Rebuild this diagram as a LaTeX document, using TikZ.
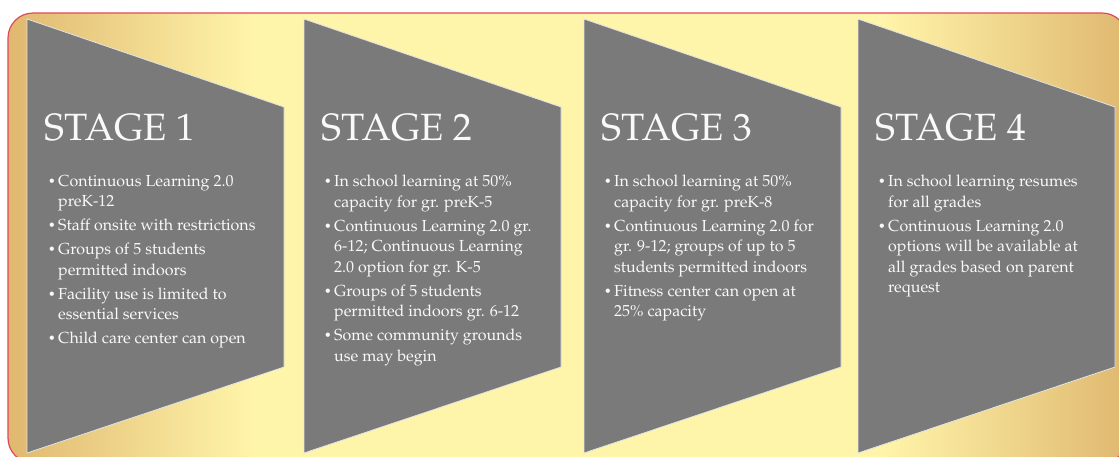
\documentclass[tikz,border=0pt]{standalone}
\usepackage[T1]{fontenc}
\renewcommand{\rmdefault}{ppl}
\definecolor{framered}{RGB}{224,72,90}
\definecolor{stagegray}{RGB}{122,122,122}
\definecolor{edgetan}{RGB}{224,184,112}
\definecolor{paleyellow}{RGB}{255,245,170}
\pgfdeclarehorizontalshading{goldband}{100bp}{color(0bp)=(edgetan); color(25bp)=(edgetan); color(36bp)=(paleyellow); color(64bp)=(paleyellow); color(75bp)=(edgetan); color(100bp)=(edgetan)}
\newcommand{\bu}{\makebox[10pt][l]{\raisebox{0.8pt}{\fontsize{12.5}{12.5}\selectfont\textbullet}}}
\newcommand{\ct}{\hspace*{10pt}}
\tikzset{
  stagebox/.style={fill=stagegray,draw=white!80!stagegray,line width=0.8pt},
  stagetitle/.style={anchor=base west,inner sep=0pt,text=white!95!gray,font=\fontsize{38}{42}\selectfont},
  stagelist/.style={anchor=north west,inner sep=0pt,align=left,text=white!95!gray,font=\fontsize{16}{20.5}\selectfont},
}
\begin{document}
\begin{tikzpicture}[x=1pt,y=-1pt,line join=round]
\useasboundingbox (0,0) rectangle (1119,456);
\shade[shading=goldband,draw=framered,line width=1.2pt,rounded corners=25pt] (8,13) rectangle (1127,463);
% the four stage chevrons
\foreach \x in {27,304,584,858}
  \draw[stagebox] (\x,19) -- ++(257,88) -- ++(0,260) -- (\x,453) -- cycle;
\node[stagetitle] (title1) at (44,140) {STAGE 1};
\node[stagetitle] (title2) at (321,140) {STAGE 2};
\node[stagetitle] (title3) at (601,140) {STAGE 3};
\node[stagetitle] (title4) at (875,140) {STAGE 4};
\node[stagelist] (list1) at (48,175) {\bu Continuous Learning 2.0\\ \ct preK-12\\[3.5pt]
  \bu Staff onsite with restrictions\\[3.5pt]
  \bu Groups of 5 students\\ \ct permitted indoors\\[3.5pt]
  \bu Facility use is limited to\\ \ct essential services\\[3.5pt]
  \bu Child care center can open};
\node[stagelist] (list2) at (324,175) {\bu In school learning at 50\%\\ \ct capacity for gr. preK-5\\[3.5pt]
  \bu Continuous Learning 2.0 gr.\\ \ct 6-12; Continuous Learning\\ \ct 2.0 option for gr. K-5\\[3.5pt]
  \bu Groups of 5 students\\ \ct permitted indoors gr. 6-12\\[3.5pt]
  \bu Some community grounds\\ \ct use may begin};
\node[stagelist] (list3) at (604,175) {\bu In school learning at 50\%\\ \ct capacity for gr. preK-8\\[3.5pt]
  \bu Continuous Learning 2.0 for\\ \ct gr. 9-12; groups of up to 5\\ \ct students permitted indoors\\[3.5pt]
  \bu Fitness center can open at\\ \ct 25\% capacity};
\node[stagelist] (list4) at (878,175) {\bu In school learning resumes\\ \ct for all grades\\[3.5pt]
  \bu Continuous Learning 2.0\\ \ct options will be available at\\ \ct all grades based on parent\\ \ct request};
\end{tikzpicture}
\end{document}
